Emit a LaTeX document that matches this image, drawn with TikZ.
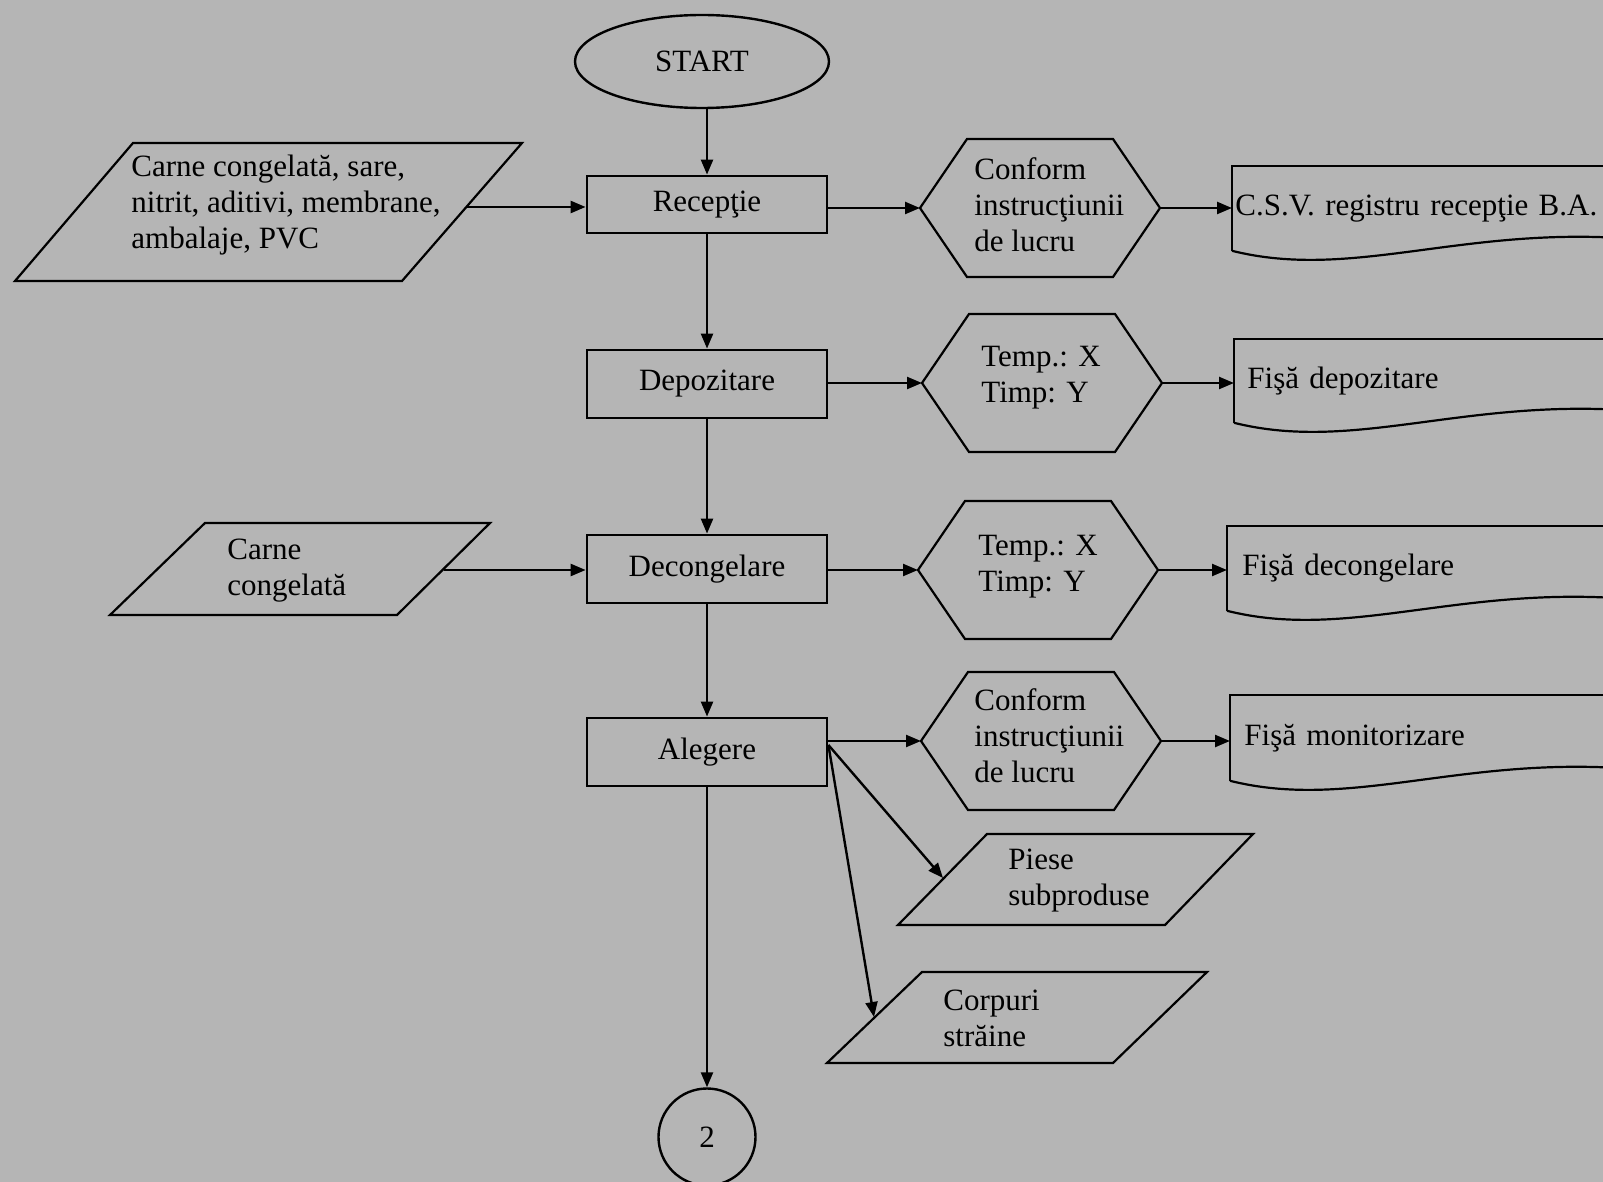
\documentclass[tikz,border=0pt]{standalone}
\usepackage{fontspec}
\setmainfont{Liberation Serif}
\usetikzlibrary{arrows.meta,calc,shapes.geometric}
\definecolor{bgc}{RGB}{181,181,181}
\begin{document}
\begin{tikzpicture}[x=0.5pt,y=-0.5pt,
  every node/.style={font=\fontsize{15.5pt}{18pt}\selectfont},
  ln/.style={draw=black,line width=1.1pt,line join=miter},
  arr/.style={draw=black,line width=1.2pt,-{Triangle[length=7.5pt,width=6pt]}},
  proc/.style={draw=black,line width=1.4pt,rectangle,minimum width=120pt,inner sep=0pt},
  lbl/.style={anchor=west,align=left,inner sep=0pt},
  docu/.style={anchor=north west,rectangle,text width=220pt,align=left,inner ysep=0pt}
]
\fill[bgc] (0,0) rectangle (1603,1182);
\useasboundingbox (0,0) rectangle (1603,1182);
\clip (0,0) rectangle (1603,1182);

% main column
\node[draw=black,line width=1.2pt,ellipse,minimum width=127pt,minimum height=46.5pt,inner sep=0pt] (start) at (702,61.5) {START};
\node[proc,minimum height=28.5pt] (rec) at (707,204.5) {Recepţie};
\node[proc,minimum height=34pt] (dep) at (707,384) {Depozitare};
\node[proc,minimum height=34pt] (dec) at (707,569) {Decongelare};
\node[proc,minimum height=34pt] (ale) at (707,752) {Alegere};
\node[draw=black,line width=1.2pt,circle,minimum size=48.5pt,inner sep=0pt] (c2) at (707,1137) {2};

% inputs / outputs (parallelograms)
\draw[ln] (133,143) -- (522,143) -- (402,281) -- (15,281) -- cycle;
\node[lbl] (p1) at (131,205) {Carne congelată, sare,\\nitrit, aditivi, membrane,\\ambalaje, PVC};
\coordinate (p1o) at (466,207);

\draw[ln] (205,523) -- (490,523) -- (397,615) -- (110,615) -- cycle;
\node[lbl] (p2) at (227,571) {Carne\\congelată};
\coordinate (p2o) at (444,570);

\draw[ln] (987,834) -- (1253,834) -- (1165,925) -- (898,925) -- cycle;
\node[lbl] (p3) at (1008,881) {Piese\\subproduse};
\coordinate (p3i) at (943,878);

\draw[ln] (922,972) -- (1207,972) -- (1113,1063) -- (827,1063) -- cycle;
\node[lbl] (p4) at (943,1018) {Corpuri\\străine};
\coordinate (p4i) at (874,1017);

% hexagons
\coordinate (h1) at (1040,208);
\coordinate (h2) at (1042,383);
\coordinate (h3) at (1038,570);
\coordinate (h4) at (1041,741);
\foreach \h in {h1,h2,h3,h4}{
  \draw[ln] ($(\h)+(-120,0)$) -- ($(\h)+(-73,-69)$) -- ($(\h)+(73,-69)$) -- ($(\h)+(120,0)$) -- ($(\h)+(73,69)$) -- ($(\h)+(-73,69)$) -- cycle;
}
\coordinate (h1w) at ($(h1)+(-120,0)$);
\coordinate (h2w) at ($(h2)+(-120,0)$);
\coordinate (h3w) at ($(h3)+(-120,0)$);
\coordinate (h4w) at ($(h4)+(-120,0)$);
\coordinate (h1e) at ($(h1)+(120,0)$);
\coordinate (h2e) at ($(h2)+(120,0)$);
\coordinate (h3e) at ($(h3)+(120,0)$);
\coordinate (h4e) at ($(h4)+(120,0)$);
\node[lbl] (hx1) at (974,205) {Conform\\instrucţiunii\\de lucru};
\node[lbl] (hx2) at (981,378) {Temp.: X\\Timp: Y};
\node[lbl] (hx3) at (978,567) {Temp.: X\\Timp: Y};
\node[lbl] (hx4) at (974,736) {Conform\\instrucţiunii\\de lucru};

% documents
\node[docu,minimum height=42pt,inner xsep=1.5pt] (d1) at (1232,166) {C.S.V. registru recepţie B.A.};
\node[docu,minimum height=41.5pt,inner xsep=6.5pt] (d2) at (1234,339) {Fişă depozitare};
\node[docu,minimum height=42pt,inner xsep=7.5pt] (d3) at (1227,526) {Fişă decongelare};
\node[docu,minimum height=42.5pt,inner xsep=7pt] (d4) at (1230,695) {Fişă monitorizare};
\foreach \d in {d1,d2,d3,d4}{
  \draw[ln] (\d.south west) -- (\d.north west) -- (\d.north east);
  \draw[ln] (\d.south west) .. controls ($(\d.south west)+(120,30)$) and ($(\d.south west)+(230,-25)$) .. ($(\d.south west)+(400,-12)$);
}

% connectors: main flow
\draw[arr] (rec.north |- start.south) -- (rec.north);
\draw[arr] (rec.south) -- (dep.north);
\draw[arr] (dep.south) -- (dec.north);
\draw[arr] (dec.south) -- (ale.north);
\draw[arr] (ale.south) -- (c2.north);

% inputs
\draw[arr] (p1o) -- (p1o -| rec.west);
\draw[arr] (p2o) -- (p2o -| dec.west);

% process -> hexagon
\draw[arr] (rec.east |- h1w) -- (h1w);
\draw[arr] (dep.east |- h2w) -- (h2w);
\draw[arr] (dec.east |- h3w) -- (h3w);
\draw[arr] (ale.east |- h4w) -- (h4w);

% hexagon -> document
\draw[arr] (h1e) -- (h1e -| d1.west);
\draw[arr] (h2e) -- (h2e -| d2.west);
\draw[arr] (h3e) -- (h3e -| d3.west);
\draw[arr] (h4e) -- (h4e -| d4.west);

% Alegere -> waste outputs
\coordinate (aleo) at ($(ale.east)+(0,-7)$);
\draw[arr] (aleo) -- (p3i);
\draw[arr] (aleo) -- (p4i);
\end{tikzpicture}
\end{document}
